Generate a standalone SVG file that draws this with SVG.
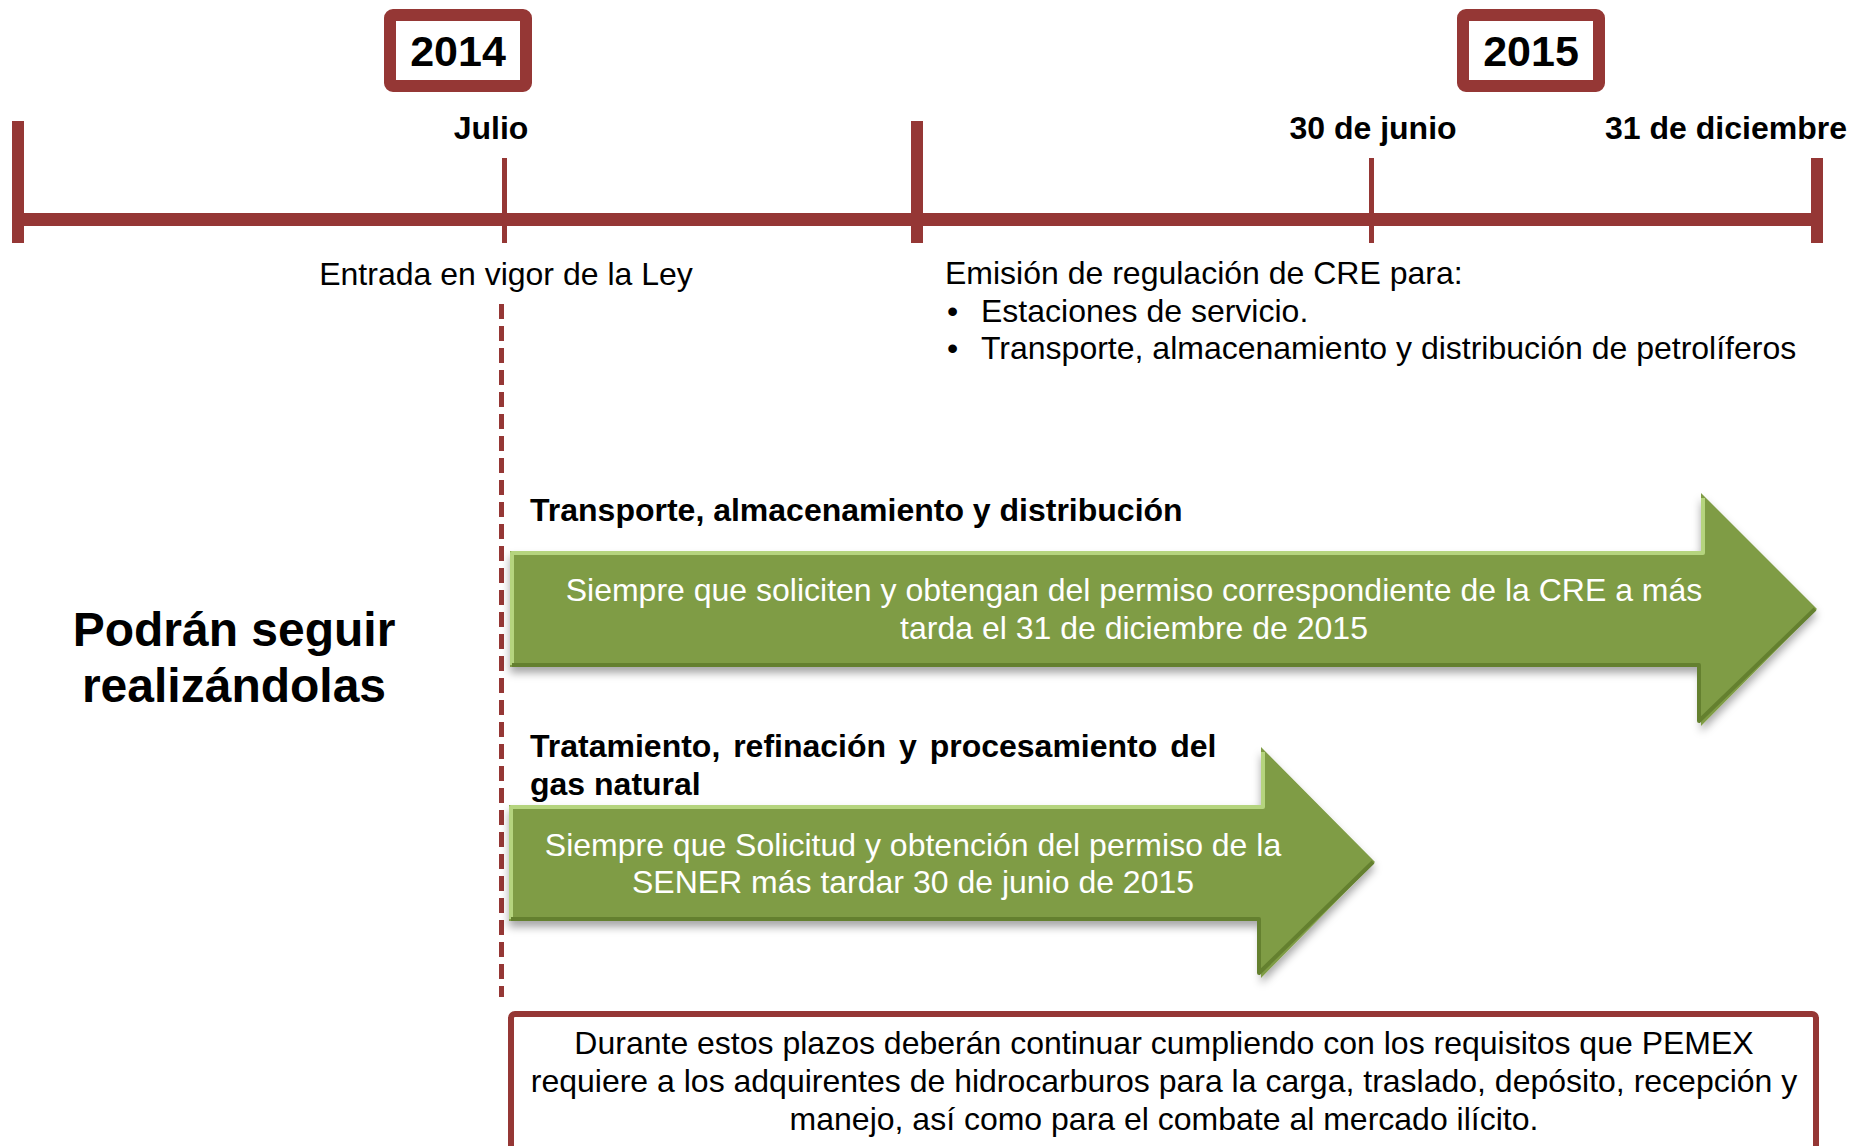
<svg xmlns="http://www.w3.org/2000/svg" width="1852" height="1146" viewBox="0 0 1852 1146">
<style>
.red{fill:#953735}
.lbl{font-family:"Liberation Sans",Arial,sans-serif;font-size:32px;fill:#000}
.b{font-weight:bold}
.w{fill:#fff}
.mid{text-anchor:middle}
.arrow{fill:#7f9c45}
.hi{fill:none;stroke:#b5d47e;stroke-width:4;stroke-linejoin:round}
.lo{fill:none;stroke:#64802f;stroke-width:4;stroke-linejoin:round}
</style>
<defs>
<filter id="sh" x="-5%" y="-20%" width="110%" height="150%">
<feDropShadow dx="0" dy="6" stdDeviation="4" flood-color="#000" flood-opacity="0.35"/>
</filter>
</defs>
<rect width="1852" height="1146" fill="#fff"/>

<g id="timeline">
<rect class="red" x="12" y="213" width="1811" height="13"/>
<rect class="red" x="12" y="121" width="12" height="122"/>
<rect class="red" x="502" y="158" width="5" height="85"/>
<rect class="red" x="911" y="121" width="12" height="122"/>
<rect class="red" x="1369" y="158" width="5" height="85"/>
<rect class="red" x="1811" y="158" width="12" height="85"/>
</g>

<g id="year-2014">
<rect x="390" y="15" width="136" height="71" rx="3" fill="#fff" stroke="#953735" stroke-width="12"/>
<text class="lbl b mid" x="458" y="66" style="font-size:43px">2014</text>
</g>
<g id="year-2015">
<rect x="1463" y="15" width="136" height="71" rx="3" fill="#fff" stroke="#953735" stroke-width="12"/>
<text class="lbl b mid" x="1531" y="66" style="font-size:43px">2015</text>
</g>

<g id="label-julio"><text class="lbl b mid" x="491" y="139">Julio</text></g>
<g id="label-30-junio"><text class="lbl b mid" x="1373" y="139">30 de junio</text></g>
<g id="label-31-diciembre"><text class="lbl b mid" x="1726" y="139">31 de diciembre</text></g>

<g id="entrada"><text class="lbl mid" x="506" y="285">Entrada en vigor de la Ley</text></g>

<g id="emision">
<text class="lbl" x="945" y="284">Emisión de regulación de CRE para:</text>
<text class="lbl" x="947" y="322">•</text>
<text class="lbl" x="981" y="322">Estaciones de servicio.</text>
<text class="lbl" x="947" y="359">•</text>
<text class="lbl" x="981" y="359">Transporte, almacenamiento y distribución de petrolíferos</text>
</g>

<g id="connectors">
<line x1="501.5" y1="304" x2="501.5" y2="997" stroke="#953735" stroke-width="5" stroke-dasharray="15 7"/>
</g>

<g id="podran">
<text class="lbl b mid" x="234" y="646" style="font-size:48px">Podrán seguir</text>
<text class="lbl b mid" x="234" y="702" style="font-size:48px">realizándolas</text>
</g>

<g id="arrow-transporte">
<text class="lbl b" x="530" y="521">Transporte, almacenamiento y distribución</text>
<polygon class="arrow" filter="url(#sh)" points="510,551 1701,551 1701,493 1817,609 1701,726 1701,667 510,667"/>
<polyline class="hi" points="512,665 512,553 1703,553 1703,498"/>
<polyline class="lo" points="512,665 1699,665 1699,721 1815,609"/>
<text class="lbl w mid" x="1134" y="601">Siempre que soliciten y obtengan del permiso correspondiente de la CRE a más</text>
<text class="lbl w mid" x="1134" y="639">tarda el 31 de diciembre de 2015</text>
</g>

<g id="arrow-tratamiento">
<text class="lbl b" x="530" y="757" word-spacing="4">Tratamiento, refinación y procesamiento del</text>
<text class="lbl b" x="530" y="795">gas natural</text>
<polygon class="arrow" filter="url(#sh)" points="509,805 1261,805 1261,747 1375,862 1261,978 1261,921 509,921"/>
<polyline class="hi" points="511,919 511,807 1263,807 1263,752"/>
<polyline class="lo" points="511,919 1259,919 1259,973 1373,862"/>
<text class="lbl w mid" x="913" y="856">Siempre que Solicitud y obtención del permiso de la</text>
<text class="lbl w mid" x="913" y="893">SENER más tardar 30 de junio de 2015</text>
</g>

<g id="box-pemex">
<rect x="511" y="1014" width="1305" height="150" rx="4" fill="#fff" stroke="#953735" stroke-width="6"/>
<text class="lbl mid" x="1164" y="1054">Durante estos plazos deberán continuar cumpliendo con los requisitos que PEMEX</text>
<text class="lbl mid" x="1164" y="1092">requiere a los adquirentes de hidrocarburos para la carga, traslado, depósito, recepción y</text>
<text class="lbl mid" x="1164" y="1130">manejo, así como para el combate al mercado ilícito.</text>
</g>
</svg>
